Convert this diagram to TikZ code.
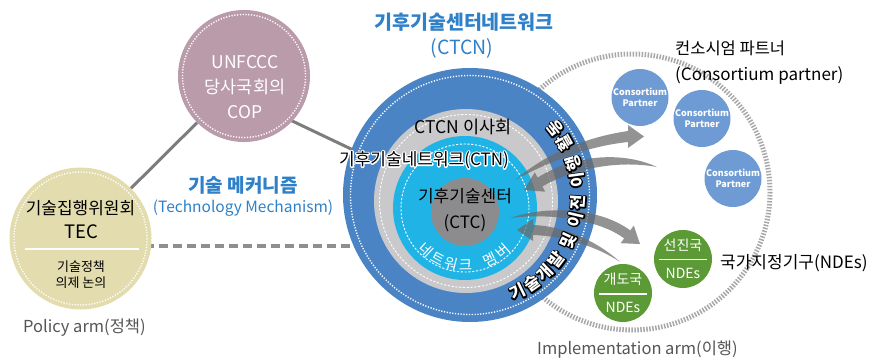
\documentclass[tikz,border=0pt]{standalone}
\usepackage{fontspec}
\setmainfont{Noto Sans CJK KR}
\usetikzlibrary{calc}
\definecolor{ringblue}{HTML}{4A84C4}
\definecolor{ringgray}{HTML}{C9C9CB}
\definecolor{ctccyan}{HTML}{20B4E6}
\definecolor{coregray}{HTML}{8C8C8E}
\definecolor{titleblue}{HTML}{2E80C8}
\definecolor{tecfill}{HTML}{E3DCAE}
\definecolor{copfill}{HTML}{BA9BA9}
\definecolor{cpblue}{HTML}{6E9BD3}
\definecolor{ndegreen}{HTML}{5B9A35}
\definecolor{linegray}{HTML}{7D7D7D}
\definecolor{dashgray}{HTML}{8F8F8F}
\definecolor{combgray}{HTML}{A8A8A8}
\definecolor{armgray}{HTML}{555555}
\definecolor{arrowgray}{HTML}{6A6A6A}
\newcommand{\fsz}[1]{\fontsize{#1}{#1}\selectfont}
\newcommand{\strokeon}[1]{\special{pdf:literal direct 2 Tr #1 w 1 J 1 j}}
\newcommand{\strokeoff}{\special{pdf:literal direct 0 Tr}}
\pgfdeclarelayer{bg}
\pgfsetlayers{bg,main}
\begin{document}
\begin{tikzpicture}[x=1pt,y=-1pt,
  disc/.style={circle,inner sep=0pt,draw=none},
  whitedots/.style={draw=white,line width=1.4pt,dash pattern=on 1.2pt off 1.6pt},
  whitedash/.style={draw=white,line width=0.9pt,dash pattern=on 2.2pt off 1.6pt},
  combring/.style={draw=combgray,line width=5pt,dash pattern=on 1.5pt off 1.5pt},
  link/.style={draw=linegray,line width=3pt},
  dashlink/.style={draw=dashgray,line width=3.5pt,dash pattern=on 9pt off 5pt},
  flow/.style={fill=arrowgray,fill opacity=0.72,draw=none},
  lbl/.style={inner sep=0pt,text=black},
  ringch/.style={lbl,font=\bfseries\fsz{16.5}},
  memberch/.style={lbl,text=white,font=\fsz{14.5}},
  cpnode/.style={disc,fill=cpblue,minimum size=57pt,text=white,align=center,font=\bfseries\fontsize{9}{11}\selectfont},
  ndedisc/.style={disc,fill=ndegreen,minimum size=58pt},
  ndetext/.style={lbl,text=white,font=\fsz{14}},
  bar/.style={draw=white,line width=1.6pt}
]
\useasboundingbox (0,0) rectangle (883,361);

% ---------- policy arm ----------
\node[disc,fill=tecfill,minimum size=142pt] (tec) at (80.5,238.5) {};
\draw[whitedots] (tec.center) circle[radius=66.5];
\node[lbl,font=\fsz{17}] (tecname) at (80.5,208) {기술집행위원회};
\node[lbl,font=\fsz{18.5}] (tecabbr) at (81,232) {TEC};
\coordinate (tecl) at (25,249); \coordinate (tecr) at (139,249);
\draw[white,line width=2pt] (tecl) -- (tecr);
\node[lbl,font=\fontsize{13}{15.5}\selectfont,align=center] (tecdesc) at (81,274.5) {기술정책\\의제 논의};
\node[lbl,font=\fsz{16.5},text=armgray,anchor=west] (policy) at (23,328) {Policy arm(정책)};

% ---------- COP ----------
\node[disc,fill=copfill,minimum size=132pt] (cop) at (244,76) {};
\draw[whitedots] (cop.center) circle[radius=61.5];
\node[lbl,text=white,align=center,font=\fontsize{17.5}{25}\selectfont] (coptext) at (245,87) {UNFCCC\\당사국회의\\COP};

% ---------- CTCN rings ----------
\node[disc,fill=ringblue,minimum size=254pt] (ctcn) at (470,195) {};
\draw[whitedots] (ctcn.center) circle[radius=119.5];
\node[disc,fill=ringgray,minimum size=184pt] (board) at (466,201) {};
\draw[whitedash] (board.center) circle[radius=86.5];
\node[disc,fill=ctccyan,minimum size=144pt] (ctn) at (465,208) {};
\draw[whitedash] (ctn.center) circle[radius=64];
\node[disc,fill=coregray,minimum size=68pt] (ctc) at (465,212) {};

\node[lbl,font=\fsz{17.5}] (boardlbl) at (463,127) {CTCN 이사회};
\node[lbl,font=\fsz{17},text=white] (ctnhalo) at (424,160) {\strokeon{2.6}기후기술네트워크(CTN)\strokeoff};
\node[lbl,font=\fsz{17}] (ctnlbl) at (424,160) {기후기술네트워크(CTN)};
\node[lbl,font=\fontsize{17}{26}\selectfont,align=center] (ctclbl) at (465,210) {기후기술센터\\(CTC)};
\foreach \ch/\ang [count=\i] in {네/133,트/118.5,워/104,크/89.5,멤/64,버/49}
  \node[memberch,rotate={90-(\ang)}] (member\i) at ($(ctn.center)+(\ang:57.5)$) {\ch};

% ---------- titles ----------
\node[lbl,text=titleblue,font=\bfseries\fsz{19.5}] (title) at (464,22) {기후기술센터네트워크};
\node[lbl,text=titleblue,font=\fsz{19.5}] (titleabbr) at (462,48) {(CTCN)};
\node[lbl,text=titleblue,font=\bfseries\fsz{19}] (mech) at (243,185) {기술 메커니즘};
\node[lbl,text=titleblue,font=\fsz{15.5}] (mechen) at (243,208) {(Technology Mechanism)};

% ---------- implementation arm ----------
\coordinate (implc) at (632,192);
\node[cpnode] (cp1) at (640,97.5) {Consortium\\Partner};
\node[cpnode] (cp2) at (702,118.5) {Consortium\\Partner};
\node[cpnode] (cp3) at (733,178.5) {Consortium\\Partner};
\node[lbl,font=\fsz{16.5},anchor=west] (cplbl) at (675,48) {컨소시엄 파트너};
\node[lbl,font=\fsz{17},anchor=west] (cplblen) at (675,75) {(Consortium partner)};

\node[ndedisc] (devd) at (683,259) {};
\node[ndetext] (devdk) at (683,245.5) {선진국};
\coordinate (devdl) at (659,259.5); \coordinate (devdr) at (707,259.5);
\draw[bar] (devdl) -- (devdr);
\node[ndetext] (devde) at (683,273) {NDEs};
\node[ndedisc] (devg) at (623,293) {};
\node[ndetext] (devgk) at (623,279.5) {개도국};
\coordinate (devgl) at (599,294); \coordinate (devgr) at (647,294);
\draw[bar] (devgl) -- (devgr);
\node[ndetext] (devge) at (623,307) {NDEs};
\node[lbl,font=\fsz{17},anchor=west] (ndelbl) at (720,263) {국가지정기구(NDEs)};
\node[lbl,font=\fsz{16.5},text=armgray,anchor=west] (impl) at (537,350) {Implementation arm(이행)};

% ---------- flow arrows ----------
\fill[flow] (515,180) .. controls (548,152) and (588,137) .. (628,131) -- (628,125) -- (644,136.5) -- (628,148) -- (628,142) .. controls (590,146) and (552,160) .. (515,180) -- cycle;
\fill[flow] (657,167) .. controls (620,150) and (572,156) .. (537.6,177.6) -- (534.8,172.3) -- (524,190) -- (545.2,191.7) -- (542.4,186.4) .. controls (574,168) and (620,160) .. (657,167) -- cycle;
\fill[flow] (510,218) .. controls (548,205) and (600,208) .. (630.2,230.4) -- (633.8,225.6) -- (640,244) -- (620.6,243.2) -- (624.2,238.4) .. controls (598,219) and (548,213) .. (510,218) -- cycle;
\fill[flow] (620,262) .. controls (596,240) and (562,226) .. (533,225) -- (533,219) -- (517,230) -- (533,241) -- (533,235) .. controls (564,236) and (598,247) .. (620,262) -- cycle;

% ---------- ring text (white with dark outline), one character at a time ----------
\foreach \ch/\ang [count=\i] in {기/64,술/55,개/46,발/37,및/25,이/13,전/4,이/-8,행/-17,활/-29,동/-38}{
  \node[ringch,text=black,rotate={90-(\ang)}] (ringk\i) at ($(ctcn.center)+(\ang:108)$) {\strokeon{2.6}\ch\strokeoff};
  \node[ringch,text=white,rotate={90-(\ang)}] (ringw\i) at ($(ctcn.center)+(\ang:108)$) {\ch};
}

% ---------- background lines ----------
\coordinate (copB) at (270,110.4);
\coordinate (ctcB) at (370,158);
\coordinate (tecD) at (145,246);
\coordinate (ctcD) at (355,246);
\begin{pgfonlayer}{bg}
  \draw[combring] (implc) circle[radius=138];
  \draw[link] (tec) -- (cop);
  \draw[link] (copB) -- (ctcB);
  \draw[dashlink] (tecD) -- (ctcD);
\end{pgfonlayer}
\end{tikzpicture}
\end{document}
